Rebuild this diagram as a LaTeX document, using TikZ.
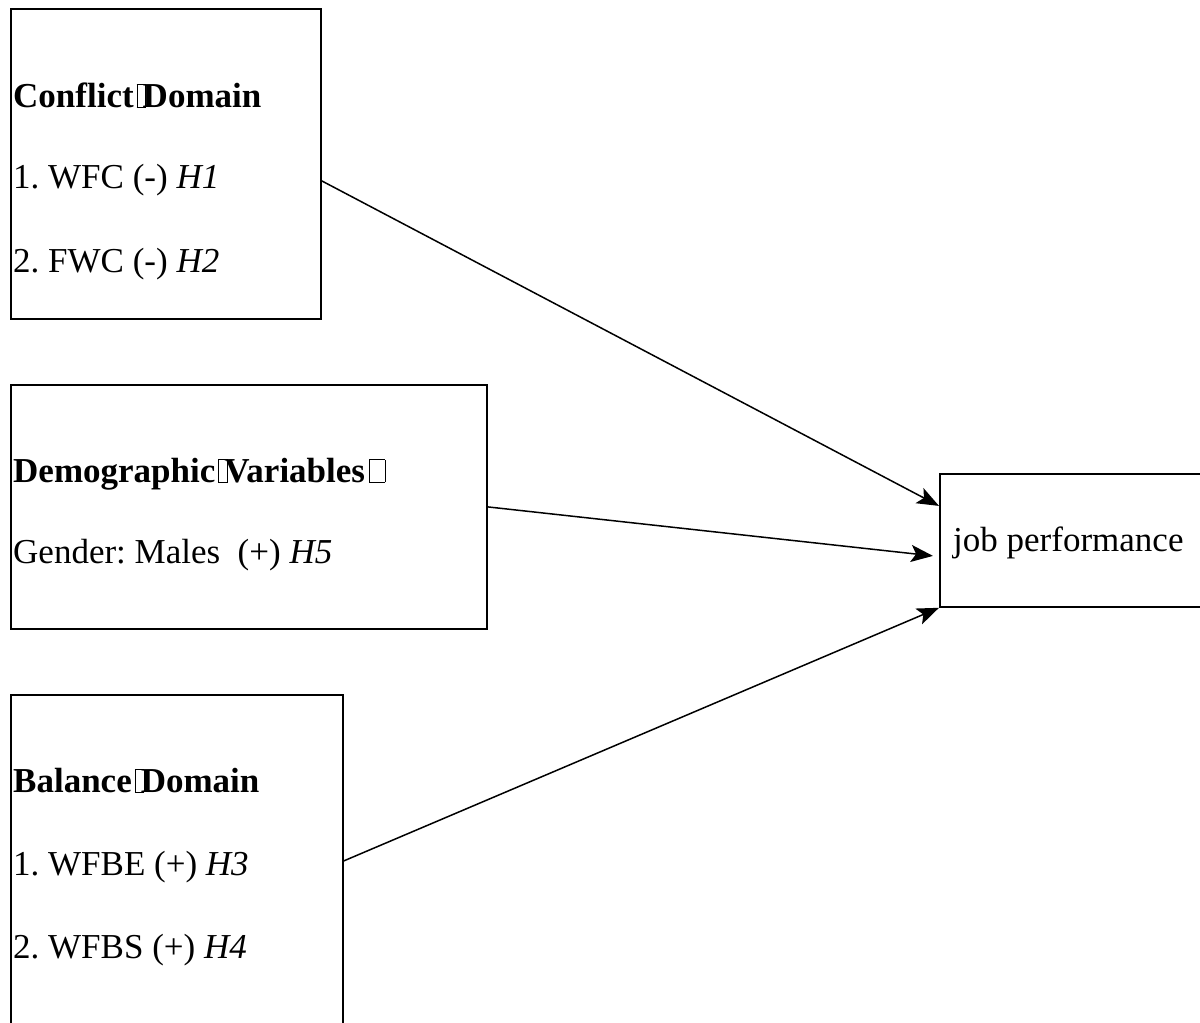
\documentclass[tikz,border=0pt]{standalone}
\usepackage{fontspec}
\setmainfont{Liberation Serif}
\usetikzlibrary{arrows.meta}
\frenchspacing
\newcommand\nbx[1]{\rlap{\fboxsep=0pt\fboxrule=0.7pt\fbox{\rule{0pt}{22pt}\hspace{#1}}}}
\tikzset{
  boxst/.style={draw=black, line width=1.8pt, rectangle, inner sep=0pt, anchor=north west},
  txt/.style={anchor=base west, inner sep=0pt, font=\fontsize{35pt}{42pt}\selectfont, text=black},
  arr/.style={draw=black, line width=1.5pt, -{Stealth[length=22pt,width=17pt,inset=5pt]}}
}
\begin{document}
\begin{tikzpicture}[x=1pt,y=-1pt]
\useasboundingbox (0,0) rectangle (1200,1023);
\fill[white] (0,0) rectangle (1200,1023);
% boxes
\node[boxst, minimum width=310pt, minimum height=310pt] (b1) at (10,8) {};
\node[boxst, minimum width=476pt, minimum height=244pt] (b2) at (10,384) {};
\node[boxst, minimum width=332pt, minimum height=332pt] (b3) at (10,694) {};
\node[boxst, minimum width=266pt, minimum height=133pt] (jb) at (939,473) {};
% texts
\node[txt] (t1a) at (13,107) {\bfseries Conflict\hspace{3pt}\nbx{8pt}\hspace{6pt}Domain};
\node[txt] (t1b) at (13,188) {1. WFC (-) \textit{H1}};
\node[txt] (t1c) at (13,272) {2. FWC (-) \textit{H2}};
\node[txt] (t2a) at (13,482) {\bfseries Demographic\hspace{3pt}\nbx{8pt}\hspace{6pt}Variables\hspace{4pt}\nbx{15pt}};
\node[txt] (t2b) at (13,563) {Gender: Males~ (+) \textit{H5}};
\node[txt] (t3a) at (13,792) {\bfseries Balance\hspace{3pt}\nbx{8pt}\hspace{6pt}Domain};
\node[txt] (t3b) at (13,875) {1. WFBE (+) \textit{H3}};
\node[txt] (t3c) at (13,958) {2. WFBS (+) \textit{H4}};
\node[txt] (tj) at (953,551) {job performance};
% connectors
\draw[arr] ([yshift=-17pt]b1.east) -- ([yshift=34.5pt]jb.west);
\draw[arr] (b2.east) -- ([xshift=-6pt,yshift=-15.5pt]jb.west);
\draw[arr] (b3.east) -- (jb.south west);
\end{tikzpicture}
\end{document}
